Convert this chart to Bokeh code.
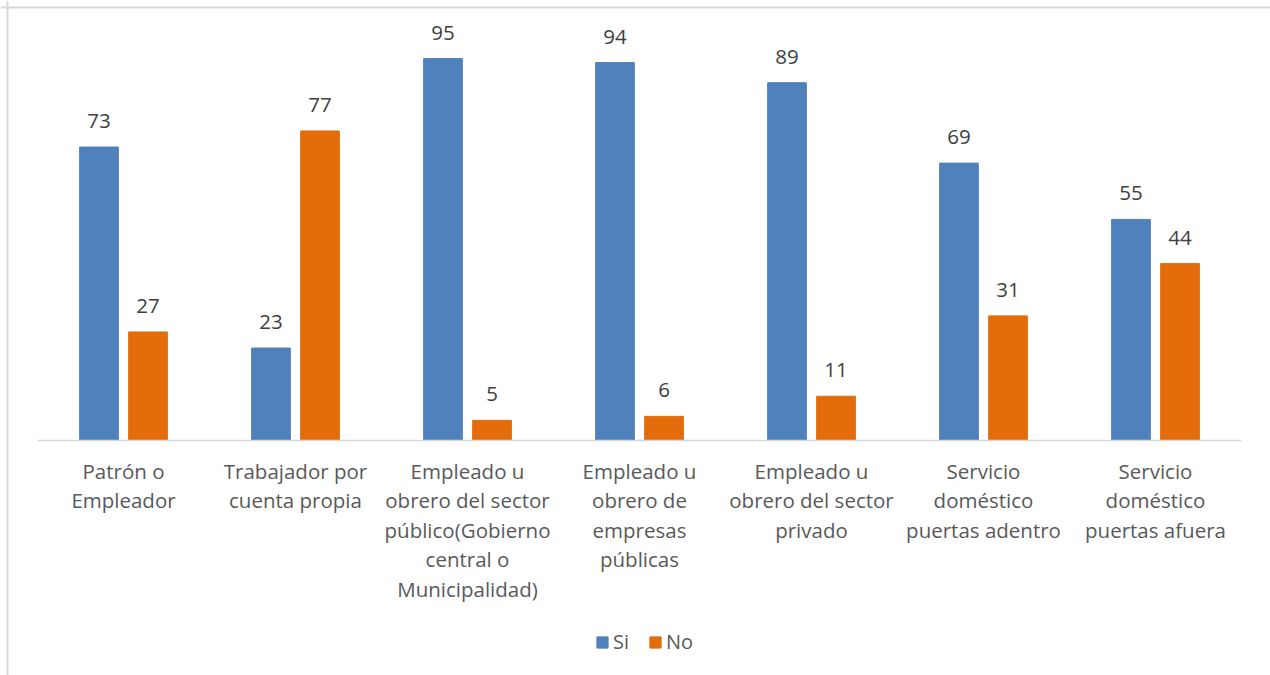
import numpy as np
from bokeh.plotting import figure
from bokeh.models import Range1d, Legend, LegendItem, Span, ColumnDataSource
from bokeh.core.properties import value
from bokeh.embed import file_html
from bokeh.resources import INLINE

categories = [
    "Patrón o\nEmpleador",
    "Trabajador por\ncuenta propia",
    "Empleado u\nobrero del sector\npúblico(Gobierno\ncentral o\nMunicipalidad)",
    "Empleado u\nobrero de\nempresas\npúblicas",
    "Empleado u\nobrero del sector\nprivado",
    "Servicio\ndoméstico\npuertas adentro",
    "Servicio\ndoméstico\npuertas afuera",
]
si_values = [73, 23, 95, 94, 89, 69, 55]
no_values = [27, 77, 5, 6, 11, 31, 44]
series_names = ["Si", "No"]

# layout constants (pixels)
W, H = 1270, 675
left_px, cat_px = 37, 172.0
base_px_from_top, unit_px = 440, 4.02
border_px = 7
FONT = "Open Sans"

n = len(categories)
centers = np.arange(n) + 0.5
off, bw = 0.1425, 0.225

p = figure(width=W, height=H, output_backend="svg", toolbar_location=None,
           x_range=Range1d(-left_px / cat_px, (W - left_px) / cat_px),
           y_range=Range1d(-(H - base_px_from_top) / unit_px, base_px_from_top / unit_px),
           min_border=0, min_border_left=0, min_border_right=0,
           min_border_top=0, min_border_bottom=0)
p.axis.visible = False
p.grid.visible = False
p.outline_line_color = None
p.background_fill_color = "white"
p.border_fill_color = "white"

# chart border (left & top visible)
p.add_layout(Span(location=(border_px - left_px) / cat_px, dimension="height",
                  line_color="#D9D9D9", line_width=2))
p.add_layout(Span(location=(base_px_from_top - border_px) / unit_px, dimension="width",
                  line_color="#D9D9D9", line_width=2))

src = ColumnDataSource(dict(xs=centers - off, xn=centers + off, si=si_values, no=no_values,
                            si_t=[str(v) for v in si_values], no_t=[str(v) for v in no_values],
                            xc=centers, cat=categories, zero=[0] * n))

r_si = p.vbar(x="xs", top="si", width=bw, source=src, fill_color="#4F81BD", line_color="#4F81BD")
r_no = p.vbar(x="xn", top="no", width=bw, source=src, fill_color="#E46C0A", line_color="#E46C0A")

# axis line
p.segment(x0=0, y0=0, x1=n, y1=0, line_color="#D9D9D9", line_width=1.5)

# value labels
for xcol, tcol, ycol in [("xs", "si_t", "si"), ("xn", "no_t", "no")]:
    p.text(x=xcol, y=ycol, text=tcol, source=src, text_align="center", text_baseline="alphabetic",
           y_offset=-26, text_font=value(FONT), text_font_size="20.5px", text_color="#404040")

# category labels
p.text(x="xc", y="zero", text="cat", source=src, text_align="center", text_baseline="top",
       y_offset=16, text_font=value(FONT), text_font_size="20.5px", text_color="#595959",
       text_line_height=1.057)

legend = Legend(items=[LegendItem(label=series_names[0], renderers=[r_si]),
                       LegendItem(label=series_names[1], renderers=[r_no])],
                orientation="horizontal", location=(595, 20),
                glyph_width=14, glyph_height=14, label_standoff=4, spacing=15,
                padding=0, margin=0, border_line_color=None, background_fill_alpha=0,
                label_text_font=FONT, label_text_font_size="20px", label_text_color="#595959",
                label_height=14)
p.add_layout(legend, "center")

open("out.html", "w").write(file_html(p, INLINE))
